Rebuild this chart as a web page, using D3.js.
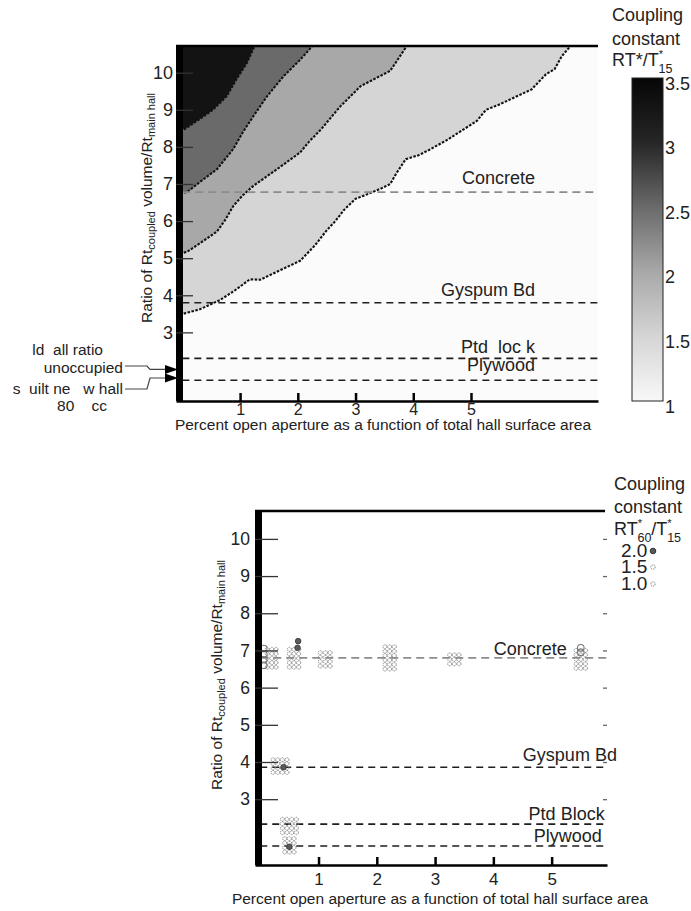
<!DOCTYPE html>
<html>
<head>
<meta charset="utf-8">
<script src="https://cdn.jsdelivr.net/npm/d3@7"></script>
<style>
    body { margin: 0; background: #fff; }
    svg { font-family: "Liberation Sans", Arial, sans-serif; }
    svg text { white-space: pre; }
</style>
</head>
<body>
<svg id="chart" width="691" height="911"></svg>
<script>
// ---- values ----
var ratioTicks = [3, 4, 5, 6, 7, 8, 9, 10];
var apertureTicks = [1, 2, 3, 4, 5];
var couplingTicks = [1, 1.5, 2, 2.5, 3, 3.5];
var couplingGreys = ["#f8f8f8", "#d5d5d5", "#a8a8a8", "#6a6a6a", "#262626", "#060606"];

// contour edges of the old hall map (aperture %, ratio), lowest level first
var bandLevels = [1.5, 2.0, 2.5, 3.3];
var edge15 = [[-0.11, 3.45], [0.3, 3.62], [0.65, 3.87], [0.9, 4.12], [1.17, 4.43], [1.35, 4.42], [1.7, 4.68],
    [2.04, 4.93], [2.3, 5.35], [2.5, 5.75], [2.65, 6.0], [2.8, 6.3], [3.0, 6.6], [3.2, 6.72], [3.43, 6.87],
    [3.6, 7.0], [3.7, 7.27], [3.87, 7.67], [4.1, 7.78], [4.3, 7.94], [4.6, 8.2], [5.0, 8.6], [5.1, 8.7],
    [5.26, 9.0], [5.5, 9.15], [5.87, 9.42], [6.05, 9.55], [6.3, 9.96], [6.45, 10.1], [6.57, 10.44], [6.74, 10.75]];
var edge20 = [[-0.11, 5.1], [0.08, 5.17], [0.35, 5.45], [0.6, 5.72], [0.75, 6.05], [0.88, 6.4], [1.05, 6.7],
    [1.23, 6.95], [1.64, 7.4], [2.04, 7.85], [2.2, 8.15], [2.4, 8.47], [2.74, 9.1], [3.09, 9.64], [3.35, 9.85],
    [3.6, 10.05], [3.75, 10.4], [3.9, 10.75]];
var edge25 = [[-0.11, 6.75], [0.08, 6.78], [0.3, 7.05], [0.6, 7.4], [0.88, 7.94], [1.05, 8.4], [1.23, 8.83],
    [1.47, 9.37], [1.75, 9.9], [2.04, 10.35], [2.27, 10.75]];
var edge30 = [[-0.11, 8.45], [0.04, 8.48], [0.3, 8.75], [0.53, 9.0], [0.77, 9.37], [0.94, 9.83], [1.12, 10.27],
    [1.26, 10.75]];
var edges = [edge15, edge20, edge25, edge30];

// wall materials and their ratio
var oldMaterials = ["Concrete", "Gyspum Bd", "Ptd  loc k", "Plywood"];
var oldRatios = [6.78, 3.8, 2.3, 1.71];
var newMaterials = ["Concrete", "Gyspum Bd", "Ptd Block", "Plywood"];
var newRatios = [6.8, 3.86, 2.33, 1.74];

// arrows on the old hall map
var annotRatios = [2.0, 1.77];
var annotLines = ["ld  all ratio", "unoccupied", "s  uilt ne   w hall", "80    cc"];

// measured groups on the new hall panel: columns (aperture %) x rows (ratio)
var groupCols = [
    [0.12, 0.2, 0.27],
    [0.5, 0.58, 0.66],
    [1.03, 1.12, 1.2],
    [2.14, 2.22, 2.3],
    [3.25, 3.33, 3.41],
    [5.42, 5.5, 5.58],
    [0.22, 0.3, 0.38, 0.46],
    [0.38, 0.46, 0.54, 0.62],
    [0.42, 0.5, 0.58]
];
var groupRows = [
    [6.55, 6.67, 6.79, 6.91, 7.03],
    [6.55, 6.67, 6.79, 6.91, 7.03],
    [6.58, 6.7, 6.82, 6.94],
    [6.5, 6.62, 6.74, 6.86, 6.98, 7.1],
    [6.64, 6.76, 6.88],
    [6.52, 6.64, 6.76, 6.88, 7.0],
    [3.72, 3.84, 3.96, 4.06],
    [2.1, 2.22, 2.34, 2.46],
    [1.58, 1.7, 1.82, 1.94]
];
var ringPts = [[0.06, 6.6], [0.06, 6.75], [0.06, 6.9], [0.06, 7.05], [5.5, 6.95], [5.5, 7.07]];
var darkPts = [[0.65, 7.25], [0.64, 7.07], [0.4, 3.86], [0.5, 1.72]];
var legendValues = ["2.0", "1.5", "1.0"];

// ---- scales ----
var xOld = d3.scaleLinear().domain([-0.11, 7.2]).range([176, 598]);
var yOld = d3.scaleLinear().domain([1.15, 10.72]).range([401, 46]);
var xNew = d3.scaleLinear().domain([-0.09, 5.95]).range([255, 607]);
var yNew = d3.scaleLinear().domain([1.23, 10.75]).range([865, 511]);
var grey = d3.scaleLinear().domain(couplingTicks).range(couplingGreys);
var cbY = d3.scaleLinear().domain([1, 3.5]).range([401, 78]);
var plain = d => String(d);

var svg = d3.select("#chart");

// ---- old hall contour map ----
svg.append("defs").append("clipPath").attr("id", "clipOld")
    .append("rect")
    .attr("x", xOld.range()[0]).attr("y", yOld.range()[1])
    .attr("width", xOld.range()[1] - xOld.range()[0])
    .attr("height", yOld.range()[0] - yOld.range()[1]);

var map = svg.append("g").attr("clip-path", "url(#clipOld)");
var line = d3.line().x(d => xOld(d[0])).y(d => yOld(d[1]));

map.append("rect")
    .attr("x", xOld.range()[0]).attr("y", yOld.range()[1])
    .attr("width", xOld.range()[1] - xOld.range()[0])
    .attr("height", yOld.range()[0] - yOld.range()[1])
    .attr("fill", "#fbfbfb");

// fill everything above each edge, painting higher levels on top
edges.forEach(function (edge, i) {
    var poly = edge.concat([[-0.11, 10.75]]);
    map.append("path")
        .attr("d", line(poly) + "Z")
        .attr("fill", grey(bandLevels[i]));
});
edges.forEach(function (edge) {
    map.append("path")
        .attr("d", line(edge))
        .attr("fill", "none")
        .attr("stroke", "#111")
        .attr("stroke-width", 2.1)
        .attr("stroke-dasharray", "2.5,1.5");
});

// material lines
function materialLines(g, names, ratios, x, y, labelAt, labelDy) {
    names.forEach(function (name, i) {
        g.append("line")
            .attr("x1", x(0)).attr("x2", x.range()[1])
            .attr("y1", y(ratios[i])).attr("y2", y(ratios[i]))
            .attr("stroke", i == 0 ? "#8c8c8c" : "#1e1e1e")
            .attr("stroke-width", 1.6)
            .attr("stroke-dasharray", i == 0 ? "8,5" : "7,5");
        g.append("text")
            .attr("x", x(labelAt[i]))
            .attr("y", y(ratios[i]) + labelDy[i])
            .attr("text-anchor", "end")
            .style("font-size", "18px")
            .attr("fill", "#222")
            .text(name);
    });
}
materialLines(svg.append("g"), oldMaterials, oldRatios, xOld, yOld, [6.11, 6.11, 6.11, 6.11], [-8, -7, -5, -9]);

// frame: thick left bar, top rule
svg.append("rect").attr("x", 176).attr("y", yOld.range()[1]).attr("width", 7)
    .attr("height", yOld.range()[0] - yOld.range()[1]).attr("fill", "#000");
svg.append("line").attr("x1", 176).attr("x2", 598).attr("y1", 46).attr("y2", 46)
    .attr("stroke", "#000").attr("stroke-width", 2.5);

function styleAxis(g, size) {
    g.selectAll("text").style("font-size", size).attr("fill", "#222");
    g.style("font-family", null);
}

var yAxisOld = svg.append("g").attr("transform", "translate(176,0)")
    .call(d3.axisLeft(yOld).tickValues(ratioTicks).tickFormat(plain).tickSize(-17).tickPadding(3));
yAxisOld.select(".domain").remove();
yAxisOld.selectAll("line").attr("stroke", "#333").attr("stroke-width", 1.3);
styleAxis(yAxisOld, "18px");

var xAxisOld = svg.append("g").attr("transform", "translate(0,401)")
    .call(d3.axisBottom(xOld).tickValues(apertureTicks).tickFormat(plain).tickSize(-8).tickSizeOuter(0).tickPadding(3));
xAxisOld.select(".domain").attr("stroke-width", 2.5);
xAxisOld.selectAll("line").attr("stroke-width", 2.5);
styleAxis(xAxisOld, "16px");

function ratioTitle(x, y) {
    var t = svg.append("text")
        .attr("transform", "translate(" + x + "," + y + ") rotate(-90)")
        .attr("text-anchor", "middle")
        .attr("fill", "#222")
        .style("font-size", "15.5px");
    t.append("tspan").text("Ratio of Rt");
    t.append("tspan").attr("dy", 3).style("font-size", "11px").text("coupled");
    t.append("tspan").attr("dy", -3).text(" volume/Rt");
    t.append("tspan").attr("dy", 3).style("font-size", "11px").text("main hall");
}
ratioTitle(152, 208);

svg.append("text").attr("x", 383).attr("y", 430).attr("text-anchor", "middle")
    .style("font-size", "15.5px").attr("fill", "#222")
    .text("Percent open aperture as a function of total hall surface area");

// left notes with arrows
var noteY = [355, 373, 394, 411];
var noteEnd = [103, 123, 123, 107];
annotLines.forEach(function (txt, i) {
    svg.append("text").attr("x", noteEnd[i]).attr("y", noteY[i])
        .attr("text-anchor", "end").style("font-size", "15.5px").attr("fill", "#222")
        .text(txt);
});
var a1 = yOld(annotRatios[0]), a2 = yOld(annotRatios[1]);
svg.append("path")
    .attr("d", "M125,366H147L150," + a1 + "H166")
    .attr("fill", "none").attr("stroke", "#444").attr("stroke-width", 1.2);
svg.append("path")
    .attr("d", "M125,389H147L150," + a2 + "H166")
    .attr("fill", "none").attr("stroke", "#444").attr("stroke-width", 1.2);
[a1, a2].forEach(function (ay) {
    svg.append("path")
        .attr("d", "M165," + (ay - 4.5) + "L178," + ay + "L165," + (ay + 4.5) + "Z")
        .attr("fill", "#000");
});

// colour bar
var grad = svg.select("defs").append("linearGradient")
    .attr("id", "cbGrad").attr("x1", 0).attr("x2", 0).attr("y1", 1).attr("y2", 0);
couplingTicks.forEach(function (v, i) {
    grad.append("stop").attr("offset", (v - 1) / 2.5).attr("stop-color", couplingGreys[i]);
});
svg.append("rect").attr("x", 632).attr("y", cbY(3.5)).attr("width", 31)
    .attr("height", cbY(1) - cbY(3.5))
    .attr("fill", "url(#cbGrad)").attr("stroke", "#222").attr("stroke-width", 1);
var cbAxis = svg.append("g").attr("transform", "translate(663,0)")
    .call(d3.axisRight(cbY).tickValues(couplingTicks).tickFormat(plain).tickSize(0).tickPadding(2));
cbAxis.select(".domain").remove();
cbAxis.selectAll("text").attr("dy", "0.62em");
styleAxis(cbAxis, "18px");

// star over subscript, kept apart vertically
function starSub(t, sub) {
    t.append("tspan").attr("dy", -8).style("font-size", "11px").text("*");
    t.append("tspan").attr("dx", -4.5).attr("dy", 15).style("font-size", "12.5px").text(sub);
}

var cbTitle = svg.append("g").attr("fill", "#222").style("font-size", "18px");
cbTitle.append("text").attr("x", 612).attr("y", 21).text("Coupling");
cbTitle.append("text").attr("x", 612).attr("y", 45).text("constant");
var rt = cbTitle.append("text").attr("x", 612).attr("y", 66);
rt.append("tspan").text("RT*/T");
starSub(rt, "15");

// ---- new hall panel ----
var pts = svg.append("g");
materialLines(pts, newMaterials, newRatios, xNew, yNew, [5.26, 6.12, 5.91, 5.86], [-3, -6, -4, -4]);

groupCols.forEach(function (cols, gi) {
    cols.forEach(function (cx) {
        pts.selectAll(null)
            .data(groupRows[gi])
            .enter()
            .append("circle")
            .attr("cx", xNew(cx))
            .attr("cy", d => yNew(d))
            .attr("r", 2)
            .attr("fill", "none")
            .attr("stroke", "#8a8a8a")
            .attr("stroke-width", 1)
            .attr("stroke-dasharray", "1.3,0.7");
    });
});
pts.selectAll(null).data(ringPts).enter().append("circle")
    .attr("cx", d => xNew(d[0])).attr("cy", d => yNew(d[1])).attr("r", 3.3)
    .attr("fill", "none").attr("stroke", "#777").attr("stroke-width", 1.1);
pts.selectAll(null).data(darkPts).enter().append("circle")
    .attr("cx", d => xNew(d[0])).attr("cy", d => yNew(d[1])).attr("r", 2.8)
    .attr("fill", "#5a5a5a").attr("stroke", "#333").attr("stroke-width", 0.8);

svg.append("rect").attr("x", 255).attr("y", yNew.range()[1]).attr("width", 7)
    .attr("height", yNew.range()[0] - yNew.range()[1]).attr("fill", "#000");
svg.append("line").attr("x1", 255).attr("x2", 605).attr("y1", 511).attr("y2", 511)
    .attr("stroke", "#000").attr("stroke-width", 2.5);

var yAxisNew = svg.append("g").attr("transform", "translate(255,0)")
    .call(d3.axisLeft(yNew).tickValues(ratioTicks).tickFormat(plain).tickSize(-23).tickPadding(5));
yAxisNew.select(".domain").remove();
yAxisNew.selectAll("line").attr("stroke", "#333").attr("stroke-width", 1.3);
styleAxis(yAxisNew, "17.5px");

var yRightNew = svg.append("g").attr("transform", "translate(607,0)")
    .call(d3.axisRight(yNew).tickValues(ratioTicks).tickSize(-4).tickFormat(""));
yRightNew.select(".domain").remove();
yRightNew.selectAll("line").attr("stroke", "#666").attr("stroke-width", 1.3);

var xAxisNew = svg.append("g").attr("transform", "translate(0,865)")
    .call(d3.axisBottom(xNew).tickValues(apertureTicks).tickFormat(plain).tickSize(-8).tickSizeOuter(0).tickPadding(8));
xAxisNew.select(".domain").attr("stroke-width", 2.5);
xAxisNew.selectAll("line").attr("stroke-width", 2.5);
styleAxis(xAxisNew, "17px");

ratioTitle(222, 675);
svg.append("text").attr("x", 440).attr("y", 904).attr("text-anchor", "middle")
    .style("font-size", "15.5px").attr("fill", "#222")
    .text("Percent open aperture as a function of total hall surface area");

// legend
var lg = svg.append("g").attr("fill", "#222").style("font-size", "18px");
lg.append("text").attr("x", 614).attr("y", 490).text("Coupling");
lg.append("text").attr("x", 614).attr("y", 513).text("constant");
var rt2 = lg.append("text").attr("x", 614).attr("y", 535);
rt2.append("tspan").text("RT");
starSub(rt2, "60");
rt2.append("tspan").attr("dy", -7).text("/T");
starSub(rt2, "15");

var legY = [557, 573, 590];
legendValues.forEach(function (v, i) {
    lg.append("text").attr("x", 621).attr("y", legY[i]).style("font-size", "19px").text(v);
    lg.append("circle").attr("cx", 653).attr("cy", legY[i] - 6).attr("r", i == 0 ? 2.8 : 2.2)
        .attr("fill", i == 0 ? "#5a5a5a" : "none")
        .attr("stroke", i == 0 ? "#333" : "#888")
        .attr("stroke-width", 1)
        .attr("stroke-dasharray", i == 0 ? null : "1.3,0.7");
});
</script>
</body>
</html>
